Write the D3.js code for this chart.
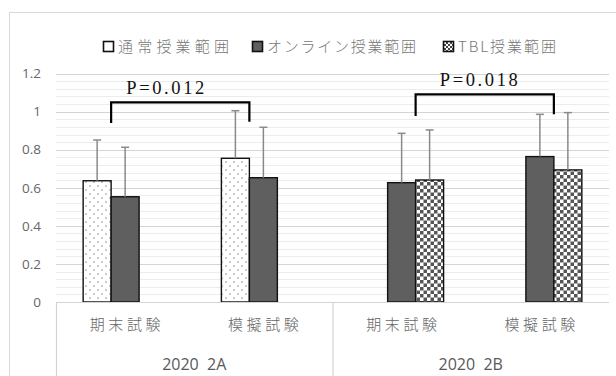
<!DOCTYPE html>
<html>
<head>
<meta charset="utf-8">
<script src="https://cdn.jsdelivr.net/npm/d3@7"></script>
<style>
  body { margin: 0; background: #fff; }
  svg { display: block; }
</style>
</head>
<body>
<svg id="chart" width="616" height="376"></svg>
<script>
// Categories (two exams per class) and the class groups below them
const categories = ["期末試験", "模擬試験", "期末試験", "模擬試験"];
const groups = ["2020  2A", "2020  2B"];
const groupSpans = [[0, 1], [2, 3]];

// Series: means and standard deviations per category (null = not taught)
const seriesNames = ["通常授業範囲", "オンライン授業範囲", "TBL授業範囲"];
const regularValues = [0.637, 0.755, null, null];
const onlineValues  = [0.553, 0.653, 0.627, 0.764];
const tblValues     = [null, null, 0.641, 0.694];
const regularSD = [0.214, 0.250, null, null];
const onlineSD  = [0.260, 0.265, 0.259, 0.222];
const tblSD     = [null, null, 0.263, 0.301];

// Axis ticks
const yTicks = [0, 0.2, 0.4, 0.6, 0.8, 1, 1.2];
const yTickLabels = ["0", "0.2", "0.4", "0.6", "0.8", "1", "1.2"];

// Significance brackets
const pLabels = ["P=0.012", "P=0.018"];
const pCategories = [[0, 1], [2, 3]];
const pTop = [1.049, 1.091];
const pLegBottom = [[0.941, 0.947], [0.977, 0.986]];

const seriesValues = [regularValues, onlineValues, tblValues];
const seriesSD = [regularSD, onlineSD, tblSD];

const svg = d3.select("#chart");
const W = 616, H = 376;
const plot = { left: 56, right: 609, top: 73.6, bottom: 302 };

const grey = "#595959";
const cjk = "'Noto Sans CJK JP', 'Noto Sans', sans-serif";
const latin = "'Open Sans', 'Noto Sans', sans-serif";

// ---- patterns ----
const defs = svg.append("defs");
const dots = defs.append("pattern").attr("id", "dots")
  .attr("patternUnits", "userSpaceOnUse").attr("width", 8).attr("height", 8);
dots.append("rect").attr("width", 8).attr("height", 8).attr("fill", "#fff");
dots.append("circle").attr("cx", 2).attr("cy", 2).attr("r", 0.85).attr("fill", "#999");
dots.append("circle").attr("cx", 6).attr("cy", 6).attr("r", 0.85).attr("fill", "#999");

const checker = defs.append("pattern").attr("id", "checker")
  .attr("patternUnits", "userSpaceOnUse").attr("width", 7).attr("height", 7);
checker.append("rect").attr("width", 7).attr("height", 7).attr("fill", "#fff");
checker.append("rect").attr("width", 3.5).attr("height", 3.5).attr("fill", "#555");
checker.append("rect").attr("x", 3.5).attr("y", 3.5).attr("width", 3.5).attr("height", 3.5).attr("fill", "#555");

const checkerSmall = defs.append("pattern").attr("id", "checkerSmall")
  .attr("patternUnits", "userSpaceOnUse").attr("width", 4).attr("height", 4);
checkerSmall.append("rect").attr("width", 4).attr("height", 4).attr("fill", "#fff");
checkerSmall.append("rect").attr("width", 2).attr("height", 2).attr("fill", "#444");
checkerSmall.append("rect").attr("x", 2).attr("y", 2).attr("width", 2).attr("height", 2).attr("fill", "#444");

const fills = ["url(#dots)", "#5f5f5f", "url(#checker)"];
const legendFills = ["#fff", "#5f5f5f", "url(#checkerSmall)"];

// ---- chart frame ----
svg.append("rect").attr("x", 9.5).attr("y", 12.5).attr("width", 700).attr("height", 500)
  .attr("fill", "#fff").attr("stroke", "#d9d9d9");

// ---- scales ----
const y = d3.scaleLinear().domain([0, 1.2]).range([plot.bottom, plot.top]);
const x0 = d3.scaleBand().domain(d3.range(categories.length)).range([plot.left, plot.right]);
const x1 = d3.scaleBand().domain(d3.range(seriesNames.length))
  .range([0, x0.bandwidth()]).paddingOuter(0.97);

// ---- gridlines ----
const minor = d3.range(0, 31).filter(i => i % 5 !== 0).map(i => i * 0.04);
svg.append("g").selectAll("line").data(minor).join("line")
  .attr("x1", plot.left).attr("x2", plot.right)
  .attr("y1", d => Math.round(y(d)) + 0.5).attr("y2", d => Math.round(y(d)) + 0.5)
  .attr("stroke", "#ececec").attr("stroke-width", 1);
svg.append("g").selectAll("line").data(yTicks.slice(1)).join("line")
  .attr("x1", plot.left).attr("x2", plot.right)
  .attr("y1", d => Math.round(y(d)) + 0.5).attr("y2", d => Math.round(y(d)) + 0.5)
  .attr("stroke", "#d4d4d4").attr("stroke-width", 1.2);

// ---- y labels ----
svg.append("g").selectAll("text").data(yTicks).join("text")
  .attr("x", 41).attr("y", d => y(d)).attr("dy", "0.35em")
  .attr("text-anchor", "end").attr("fill", "#666")
  .style("font", `13.5px ${latin}`).text((d, i) => yTickLabels[i]);

// ---- bars ----
const bars = [];
seriesValues.forEach((vals, s) => vals.forEach((v, i) => {
  if (v !== null) bars.push({ s, i, v, sd: seriesSD[s][i] });
}));

svg.append("g").selectAll("rect").data(bars).join("rect")
  .attr("x", d => x0(d.i) + x1(d.s))
  .attr("width", x1.bandwidth())
  .attr("y", d => y(d.v))
  .attr("height", d => y(0) - y(d.v))
  .attr("fill", d => fills[d.s])
  .attr("stroke", "#111").attr("stroke-width", 1.4);

// ---- error bars (upper only) ----
const eb = svg.append("g").attr("stroke", "#8a8a8a").attr("stroke-width", 1.5);
bars.forEach(d => {
  const cx = x0(d.i) + x1(d.s) + x1.bandwidth() / 2;
  eb.append("line").attr("x1", cx).attr("x2", cx).attr("y1", y(d.v)).attr("y2", y(d.v + d.sd));
  eb.append("line").attr("x1", cx - 4).attr("x2", cx + 4).attr("y1", y(d.v + d.sd)).attr("y2", y(d.v + d.sd));
});

// ---- x axis ----
svg.append("line").attr("x1", plot.left).attr("x2", plot.right)
  .attr("y1", plot.bottom + 0.5).attr("y2", plot.bottom + 0.5)
  .attr("stroke", "#d4d4d4").attr("stroke-width", 1.2);
svg.append("g").selectAll("line").data(groupSpans).join("line")
  .attr("x1", d => x0(d[0]) + 0.5).attr("x2", d => x0(d[0]) + 0.5)
  .attr("y1", plot.bottom).attr("y2", H)
  .attr("stroke", "#d4d4d4").attr("stroke-width", 1.2);

svg.append("g").selectAll("text").data(categories).join("text")
  .attr("x", (d, i) => x0(i) + x0.bandwidth() / 2).attr("y", 325).attr("dy", "0.35em")
  .attr("text-anchor", "middle").attr("fill", "#666")
  .attr("textLength", 71).attr("lengthAdjust", "spacing")
  .style("font", `300 15px ${cjk}`).text(d => d);

svg.append("g").selectAll("text").data(groups).join("text")
  .attr("x", (d, i) => (x0(groupSpans[i][0]) + x0(groupSpans[i][1]) + x0.bandwidth()) / 2)
  .attr("y", 364).attr("dy", "0.35em")
  .attr("text-anchor", "middle").attr("fill", grey)
  .style("font", `16px ${latin}`).style("white-space", "pre").text(d => d);

// ---- legend ----
const legendMarkX = [103, 252, 443];
const legendTextLen = [111, 149, 98];
const lg = svg.append("g");
seriesNames.forEach((name, s) => {
  lg.append("rect").attr("x", legendMarkX[s] + 0.5).attr("y", 41.5).attr("width", 10).attr("height", 10)
    .attr("fill", legendFills[s]).attr("stroke", "#111").attr("stroke-width", 1.6);
  lg.append("text").attr("x", legendMarkX[s] + 15).attr("y", 47).attr("dy", "0.35em")
    .attr("fill", "#777").attr("textLength", legendTextLen[s]).attr("lengthAdjust", "spacing")
    .style("font", `300 15px ${cjk}`).text(name);
});

// ---- significance brackets ----
function pairCenter(cat) {
  const occ = seriesValues.map((v, s) => v[cat] !== null ? s : null).filter(s => s !== null);
  const a = x0(cat) + x1(occ[0]);
  const b = x0(cat) + x1(occ[occ.length - 1]) + x1.bandwidth();
  return (a + b) / 2;
}
const br = svg.append("g");
pLabels.forEach((label, k) => {
  const xa = pairCenter(pCategories[k][0]);
  const xb = pairCenter(pCategories[k][1]);
  const yt = y(pTop[k]);
  br.append("path")
    .attr("d", `M${xa},${y(pLegBottom[k][0])}V${yt}H${xb}V${y(pLegBottom[k][1])}`)
    .attr("fill", "none").attr("stroke", "#000").attr("stroke-width", 2.2);
  br.append("text").attr("x", (xa + xb) / 2 - (k === 0 ? 15 : 6)).attr("y", yt - 8)
    .attr("text-anchor", "middle").attr("fill", "#111")
    .attr("textLength", 78).attr("lengthAdjust", "spacing")
    .style("font", "18.5px 'Liberation Serif', 'DejaVu Serif', serif").text(label);
});
</script>
</body>
</html>
